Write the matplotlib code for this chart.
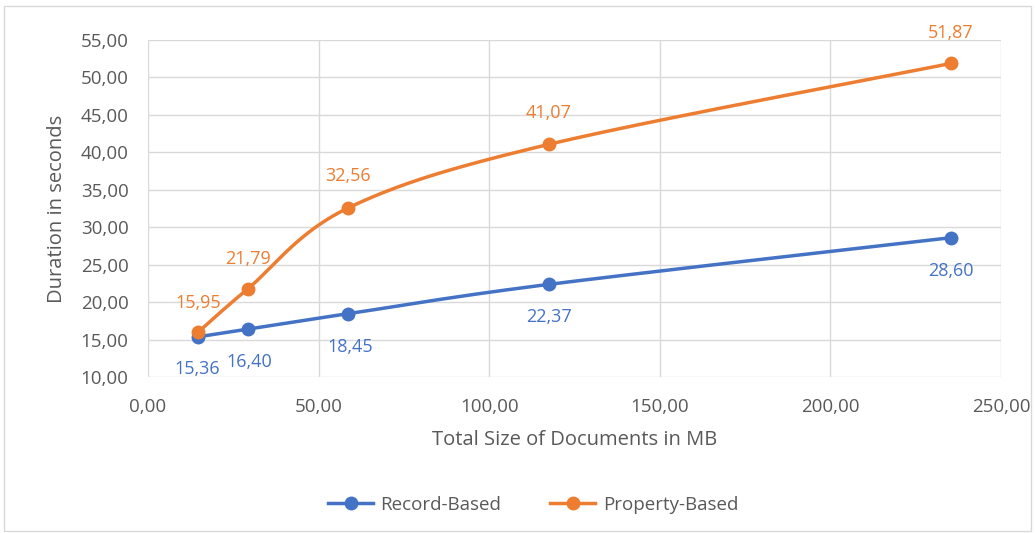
import matplotlib
matplotlib.use("Agg")
import matplotlib.pyplot as plt
import numpy as np
from matplotlib.ticker import FuncFormatter

sizes_mb = [14.6, 29.3, 58.6, 117.5, 235.3]
record_based = [15.36, 16.40, 18.45, 22.37, 28.60]
property_based = [15.95, 21.79, 32.56, 41.07, 51.87]
series_names = ["Record-Based", "Property-Based"]

# label offsets in pixels (dx, dy) relative to the data point
record_label_offsets = [(-1, -32), (1, -33), (2, -33), (0, -33), (0, -33)]
property_label_offsets = [(0, 29), (0, 30), (0, 32), (0, 31), (0, 30)]

BLUE = "#4472C4"
ORANGE = "#ED7D31"
GREY = "#595959"

plt.rcParams['font.family'] = ['Open Sans', 'DejaVu Sans']


def smooth(xs, ys, n=40):
    # Excel-like smoothed line (Bezier through the points)
    xs = np.asarray(xs, float)
    ys = np.asarray(ys, float)
    px, py = [], []
    k = len(xs)
    for i in range(k - 1):
        p0 = np.array([xs[max(i - 1, 0)], ys[max(i - 1, 0)]])
        p1 = np.array([xs[i], ys[i]])
        p2 = np.array([xs[i + 1], ys[i + 1]])
        p3 = np.array([xs[min(i + 2, k - 1)], ys[min(i + 2, k - 1)]])
        c1 = p1 + (p2 - p0) / 6.0
        c2 = p2 - (p3 - p1) / 6.0
        t = np.linspace(0, 1, n)[:, None]
        b = ((1 - t) ** 3) * p1 + 3 * ((1 - t) ** 2) * t * c1 + 3 * (1 - t) * t ** 2 * c2 + t ** 3 * p2
        px.extend(b[:, 0])
        py.extend(b[:, 1])
    return np.array(px), np.array(py)


fig = plt.figure(figsize=(10.35, 5.33), dpi=100)
ax = fig.add_axes([148 / 1035, 1 - 377 / 533, (1001 - 148) / 1035, (377 - 40) / 533])

# chart border
fig.patches.append(plt.Rectangle((0.004, 0.004), 0.992, 0.985, transform=fig.transFigure,
                                 fill=False, edgecolor="#D9D9D9", linewidth=1.0))

for ys, color, name in [(record_based, BLUE, series_names[0]), (property_based, ORANGE, series_names[1])]:
    sx, sy = smooth(sizes_mb, ys)
    ax.plot(sx, sy, color=color, linewidth=2.5, solid_capstyle='round', zorder=3)
    ax.plot(sizes_mb, ys, 'o', color=color, markersize=9, zorder=4)
    ax.plot([], [], '-o', color=color, linewidth=2.5, markersize=9, label=name)

fmt = lambda v: f"{v:.2f}".replace(".", ",")

for x, y, off in zip(sizes_mb, property_based, property_label_offsets):
    ax.annotate(fmt(y), (x, y), xytext=off, textcoords='offset pixels',
                ha='center', va='center', color=ORANGE, fontsize=13)
for x, y, off in zip(sizes_mb, record_based, record_label_offsets):
    ax.annotate(fmt(y), (x, y), xytext=off, textcoords='offset pixels',
                ha='center', va='center', color=BLUE, fontsize=13, zorder=5)

ax.set_xlim(0, 250)
ax.set_ylim(10, 55)
ax.set_xticks(np.arange(0, 251, 50))
ax.set_yticks(np.arange(10, 56, 5))
ax.xaxis.set_major_formatter(FuncFormatter(lambda v, p: fmt(v)))
ax.yaxis.set_major_formatter(FuncFormatter(lambda v, p: fmt(v)))
ax.grid(True, color="#D9D9D9", linewidth=1.0)
ax.set_axisbelow(True)
for s in ax.spines.values():
    s.set_visible(False)
ax.tick_params(length=0, colors=GREY, labelsize=13.5)
ax.tick_params(axis='x', pad=15)
ax.tick_params(axis='y', pad=14)

ax.set_xlabel("Total Size of Documents in MB", fontsize=14.5, color=GREY, labelpad=10)
ax.set_ylabel("Duration in seconds", fontsize=14.5, color=GREY, labelpad=10)

leg = fig.legend(loc='center', bbox_to_anchor=(0.515, 1 - 505 / 533), ncol=2, frameon=False,
                 fontsize=13.5, handlelength=2.4, handletextpad=0.4, columnspacing=2.6,
                 labelcolor=GREY)

fig.savefig("out.png", dpi=100, facecolor="white")
